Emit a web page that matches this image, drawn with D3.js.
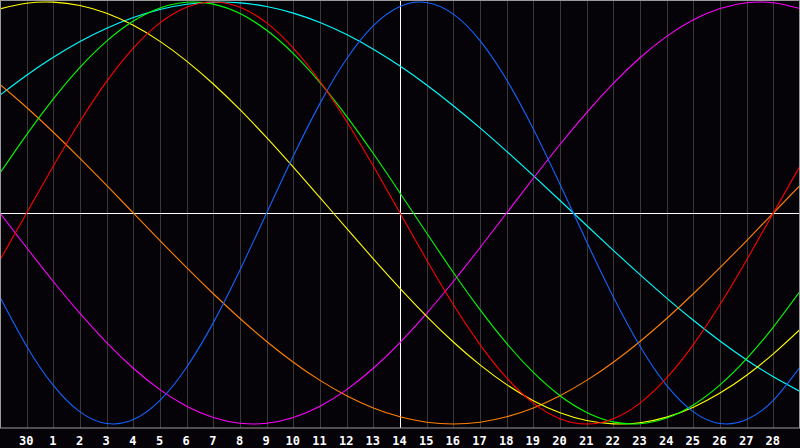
<!DOCTYPE html>
<html>
<head>
<meta charset="utf-8">
<script src="https://cdn.jsdelivr.net/npm/d3@7"></script>
<style>
  html, body { margin: 0; padding: 0; background: #060308; }
  svg { display: block; }
</style>
</head>
<body>
<svg id="chart" width="800" height="448"></svg>
<script>
// Days shown: index -1 .. 29 (index 14 = today, marked by the white line)
const dayIndex = d3.range(-1, 30);
const tickDays = d3.range(0, 29);
const tickLabels = ["30","1","2","3","4","5","6","7","8","9","10","11","12","13","14",
  "15","16","17","18","19","20","21","22","23","24","25","26","27","28"];

// Cycle values per day (index -1 .. 29)
const physical = [-0.3984,-0.6311,-0.8170,-0.9423,-0.9977,-0.9791,-0.8879,-0.7308,-0.5196,-0.2698,0,0.2698,0.5196,0.7308,0.8879,0.9791,0.9977,0.9423,0.8170,0.6311,0.3984,0.1362,-0.1362,-0.3984,-0.6311,-0.8170,-0.9423,-0.9977,-0.9791,-0.8879,-0.7308];
const emotional = [-0.2225,0,0.2225,0.4339,0.6235,0.7818,0.9010,0.9749,1,0.9749,0.9010,0.7818,0.6235,0.4339,0.2225,0,-0.2225,-0.4339,-0.6235,-0.7818,-0.9010,-0.9749,-1,-0.9749,-0.9010,-0.7818,-0.6235,-0.4339,-0.2225,0,0.2225];
const intellectual = [0.1893,0.3717,0.5406,0.6901,0.8146,0.9096,0.9718,0.9989,0.9898,0.9450,0.8660,0.7557,0.6182,0.4582,0.2817,0.0951,-0.0951,-0.2817,-0.4582,-0.6182,-0.7557,-0.8660,-0.9450,-0.9898,-0.9989,-0.9718,-0.9096,-0.8146,-0.6901,-0.5406,-0.3717];
const intuitive = [0,-0.1646,-0.3247,-0.4759,-0.6142,-0.7357,-0.8372,-0.9158,-0.9694,-0.9966,-0.9966,-0.9694,-0.9158,-0.8372,-0.7357,-0.6142,-0.4759,-0.3247,-0.1646,0,0.1646,0.3247,0.4759,0.6142,0.7357,0.8372,0.9158,0.9694,0.9966,0.9966,0.9694];
const aesthetic = [0.9675,0.9940,0.9993,0.9834,0.9465,0.8893,0.8133,0.7200,0.6113,0.4894,0.3572,0.2174,0.0730,-0.0730,-0.2174,-0.3572,-0.4894,-0.6113,-0.7200,-0.8133,-0.8893,-0.9465,-0.9834,-0.9993,-0.9940,-0.9675,-0.9203,-0.8535,-0.7687,-0.6673,-0.5517];
const awareness = [0.6088,0.5,0.3827,0.2588,0.1305,0,-0.1305,-0.2588,-0.3827,-0.5,-0.6088,-0.7071,-0.7934,-0.8660,-0.9239,-0.9659,-0.9914,-1,-0.9914,-0.9659,-0.9239,-0.8660,-0.7934,-0.7071,-0.6088,-0.5,-0.3827,-0.2588,-0.1305,0,0.1305];
const spiritual = [0.5586,0.6527,0.7378,0.8126,0.8758,0.9267,0.9646,0.9890,0.9996,0.9960,0.9786,0.9473,0.9028,0.8456,0.7764,0.6965,0.6068,0.5085,0.4031,0.2920,0.1769,0.0592,-0.0592,-0.1769,-0.2920,-0.4031,-0.5085,-0.6068,-0.6965,-0.7764,-0.8456];

const seriesNames = ["spiritual","awareness","intuitive","aesthetic","intellectual","physical","emotional"];
const seriesValues = [spiritual, awareness, intuitive, aesthetic, intellectual, physical, emotional];
const seriesColors = ["#00ffff","#ff8000","#ff00ff","#ffff00","#00ff00","#1464ff","#ff0000"];
const todayIndex = 14;

const W = 800, H = 448;
const plotBottom = 428;
const svg = d3.select("#chart");

const x = d3.scaleLinear().domain([-1, 29]).range([0, 800]);
const y = d3.scaleLinear().domain([-1, 1]).range([424, 2]);

svg.append("rect").attr("x", 0).attr("y", 0).attr("width", W).attr("height", H).attr("fill", "#060308");

// vertical day grid
svg.append("g").selectAll("line").data(tickDays.filter(d => d !== todayIndex)).join("line")
  .attr("x1", d => Math.round(x(d)) + 0.5).attr("x2", d => Math.round(x(d)) + 0.5)
  .attr("y1", 0).attr("y2", plotBottom)
  .attr("stroke", "#383838").attr("stroke-width", 1);

// center line and today line
svg.append("line").attr("x1", 0).attr("x2", W)
  .attr("y1", Math.round(y(0)) + 0.5).attr("y2", Math.round(y(0)) + 0.5)
  .attr("stroke", "#ffffff").attr("stroke-width", 1);
svg.append("line").attr("x1", Math.round(x(todayIndex)) + 0.5).attr("x2", Math.round(x(todayIndex)) + 0.5)
  .attr("y1", 0).attr("y2", plotBottom)
  .attr("stroke", "#ffffff").attr("stroke-width", 1);

// curves
const line = d3.line()
  .x((v, i) => x(dayIndex[i]))
  .y(v => y(v))
  .curve(d3.curveNatural);

svg.append("g").selectAll("path").data(seriesValues).join("path")
  .attr("d", v => line(v))
  .attr("fill", "none")
  .attr("stroke", (v, i) => seriesColors[i])
  .attr("stroke-width", 1.1)
  .attr("class", (v, i) => seriesNames[i]);

// plot border
svg.append("rect").attr("x", 0.5).attr("y", 0.5).attr("width", W - 1).attr("height", plotBottom - 0.5)
  .attr("fill", "none").attr("stroke", "#9a9a9a").attr("stroke-width", 1);

// axis labels
const axis = d3.axisBottom(x).tickValues(tickDays).tickSize(0)
  .tickFormat((d, i) => tickLabels[i]);
const gAxis = svg.append("g").attr("transform", `translate(-1, ${plotBottom})`).call(axis);
gAxis.select(".domain").remove();
gAxis.selectAll("text")
  .attr("fill", "#ffffff")
  .attr("y", 8)
  .attr("font-family", "'DejaVu Sans Mono', monospace")
  .attr("font-weight", "bold")
  .attr("font-size", 12);
</script>
</body>
</html>
